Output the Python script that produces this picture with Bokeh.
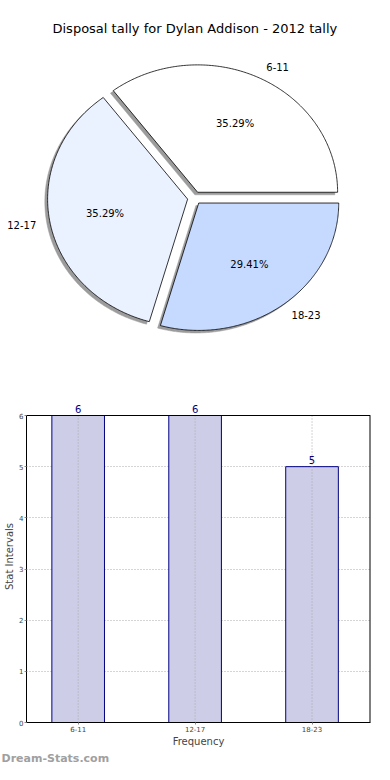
import numpy as np
from bokeh.plotting import figure
from bokeh.layouts import column, row
from bokeh.models import (ColumnDataSource, LabelSet, FixedTicker, Range1d,
                          Span, Title)
from bokeh.core.properties import value
from bokeh.embed import file_html
from bokeh.resources import INLINE

title_text = "Disposal tally for Dylan Addison - 2012 tally"
categories = ["6-11", "12-17", "18-23"]
counts = [6, 6, 5]
pie_colors = ["#ffffff", "#ebf2ff", "#c6daff"]
y_ticks = [0, 1, 2, 3, 4, 5, 6]
y_label = "Stat Intervals"
x_label = "Frequency"
watermark = "Dream-Stats.com"

FONT = "DejaVu Sans"

# ---------------- pie geometry (matplotlib-style, explode + shadow) -------------
explode = 0.05
shadow_off = 0.02
frac = np.array(counts, dtype=float) / sum(counts)
ends = 2 * np.pi * np.cumsum(frac)
starts = ends - 2 * np.pi * frac
mids = (starts + ends) / 2
cx = explode * np.cos(mids)
cy = explode * np.sin(mids)

wx, wy, shx, shy = [], [], [], []
for a0, a1, x0, y0 in zip(starts, ends, cx, cy):
    t = np.linspace(a0, a1, 200)
    px = np.concatenate([[x0], x0 + np.cos(t)])
    py = np.concatenate([[y0], y0 + np.sin(t)])
    wx.append(px)
    wy.append(py)
    shx.append(px - shadow_off)
    shy.append(py - shadow_off)

pie_src = ColumnDataSource(dict(xs=wx, ys=wy, color=pie_colors))
shadow_src = ColumnDataSource(dict(xs=shx, ys=shy))

pct_src = ColumnDataSource(dict(
    x=cx + 0.6 * np.cos(mids), y=cy + 0.6 * np.sin(mids),
    text=["%.2f%%" % (f * 100) for f in frac]))
lx = cx + 1.1 * np.cos(mids)
ly = cy + 1.1 * np.sin(mids)
lab_src = ColumnDataSource(dict(
    x=lx, y=ly, text=categories,
    align=["left" if v > 0 else "right" for v in lx]))

p1 = figure(width=374, height=380, title=title_text,
            x_range=Range1d(-1.3857, 1.2857), y_range=Range1d(-1.4331, 1.2362),
            toolbar_location=None, output_backend="svg",
            min_border=0, min_border_top=40)
p1.axis.visible = False
p1.grid.visible = False
p1.outline_line_color = None
p1.title.align = "left"
p1.title.offset = 52
p1.title.text_font = FONT
p1.title.text_font_size = "13px"
p1.title.text_font_style = "normal"
p1.title.text_color = "black"

p1.patches(xs="xs", ys="ys", source=shadow_src, fill_color="#9c9c9c",
           line_color="#9c9c9c", line_width=0.5)
p1.patches(xs="xs", ys="ys", source=pie_src, fill_color="color",
           line_color="black", line_width=0.8)
p1.text(x="x", y="y", text="text", source=pct_src, text_align="center",
        text_baseline="middle", text_font=value(FONT), text_font_size="10px",
        text_color="black")
p1.text(x="x", y="y", text="text", source=lab_src, text_align="align",
        text_baseline="middle", text_font=value(FONT), text_font_size="10px",
        text_color="black")

# ---------------- bar chart -------------
xpos = np.arange(len(categories))
bar_src = ColumnDataSource(dict(x=xpos, top=counts, lab=[str(c) for c in counts]))
ymax = max(y_ticks)
xr = Range1d(-0.4419, 2.5)

p2 = figure(width=374, height=384,
            x_range=xr, y_range=Range1d(0, 6.4886),
            toolbar_location=None, output_backend="svg",
            min_border_left=26, min_border_right=4, min_border_top=10,
            min_border_bottom=42)
p2.outline_line_color = None

p2.vbar(x="x", top="top", width=0.45, source=bar_src,
        fill_color="#cdcde8", line_color="#000080", line_width=1)
# vertical dotted grid lines at the category positions (drawn above the bars)
p2.segment(x0=xpos, y0=[0] * len(xpos), x1=xpos, y1=[ymax] * len(xpos),
           line_color="#aaaaaa", line_dash="1 2", line_width=1)

p2.add_layout(LabelSet(x="x", y="top", text="lab", source=bar_src, y_offset=3,
                       text_align="center", text_baseline="bottom",
                       text_font=value(FONT), text_font_size="10px",
                       text_color="#000080"))

# top and right sides of the axes box (box ends at the top tick)
p2.add_layout(Span(location=ymax, dimension="width", line_color="black",
                   line_width=1))
p2.segment(x0=[xr.end], y0=[0], x1=[xr.end], y1=[ymax],
           line_color="black", line_width=2)

p2.xaxis.ticker = FixedTicker(ticks=list(xpos))
p2.xaxis.major_label_overrides = {int(i): c for i, c in zip(xpos, categories)}
p2.yaxis.ticker = FixedTicker(ticks=y_ticks)
p2.yaxis.bounds = (0, ymax)
p2.xaxis.axis_label = x_label
p2.yaxis.axis_label = y_label
for ax in list(p2.xaxis) + list(p2.yaxis):
    ax.axis_line_color = "black"
    ax.major_tick_in = 0
    ax.major_tick_out = 2
    ax.major_tick_line_color = "#888888"
    ax.minor_tick_line_color = None
    ax.major_label_text_font = FONT
    ax.major_label_text_font_size = "7px"
    ax.major_label_standoff = 1
    ax.axis_label_text_font = FONT
    ax.axis_label_text_font_size = "10px"
    ax.axis_label_text_font_style = "normal"
    ax.axis_label_standoff = 1

p2.xgrid.visible = False
p2.ygrid.ticker = FixedTicker(ticks=y_ticks)
p2.ygrid.grid_line_color = "#aaaaaa"
p2.ygrid.grid_line_dash = "1 2"
p2.ygrid.grid_line_width = 1

p2.add_layout(Title(text=watermark, align="left", offset=-25, standoff=0,
                    vertical_align="bottom",
                    text_font=FONT, text_font_size="11px",
                    text_font_style="bold", text_color="#a0a0a0"), "below")

layout = column(p1, row(p2), spacing=0)

open("out.html", "w").write(file_html(layout, INLINE))
